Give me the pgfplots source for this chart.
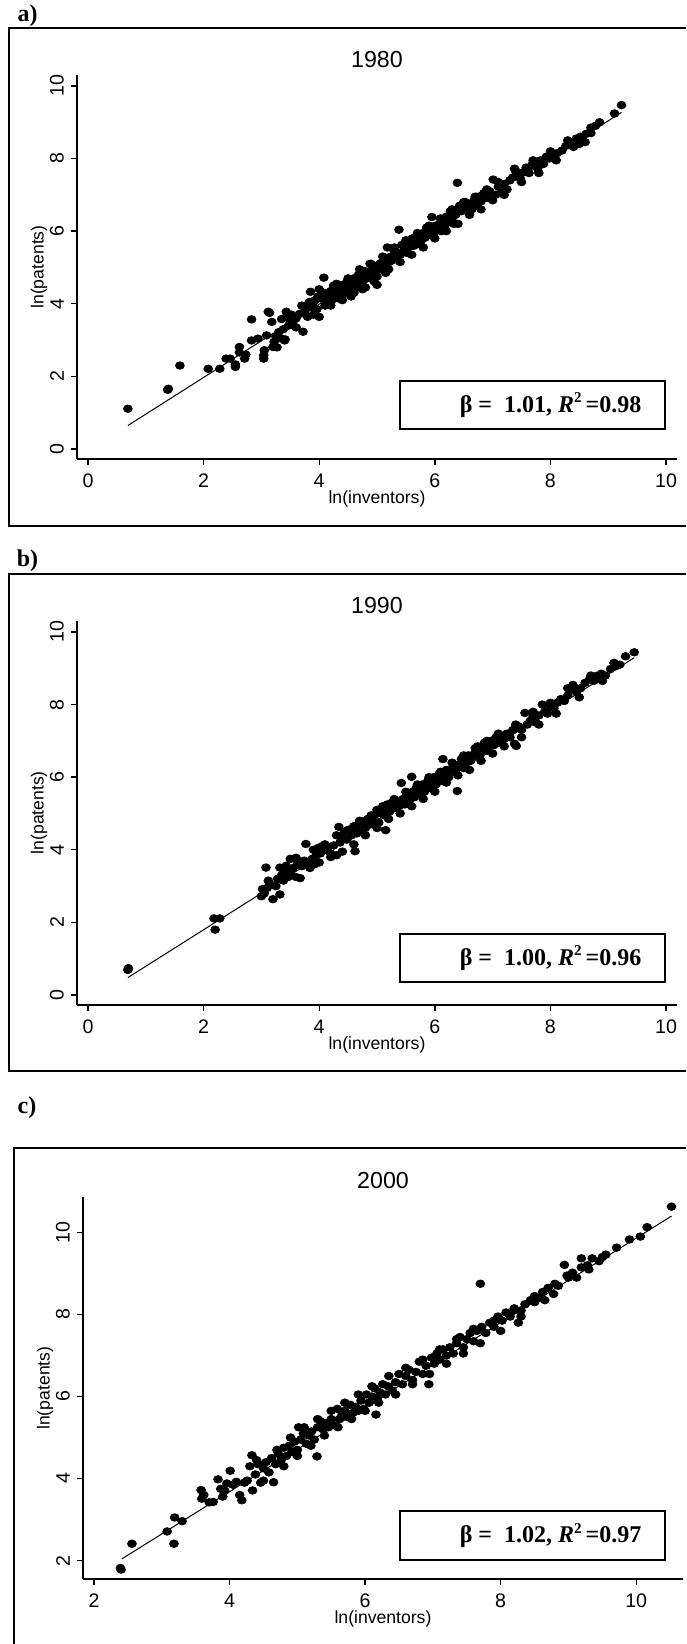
\documentclass[border=0pt]{standalone}
\usepackage{fontspec}
\setmainfont{Liberation Sans}
\newfontfamily\timesfont{Liberation Serif}
\usepackage{pgfplots}
\usepackage{pgfplotstable}
\pgfplotsset{compat=1.18}

% 1980: ln(inventors) vs ln(patents)
\pgfplotstableread{
x y
0.69 1.11
1.38 1.63
1.39 1.66
1.59 2.30
2.08 2.21
2.28 2.21
2.39 2.49
2.46 2.49
2.55 2.26
2.55 2.33
2.62 2.81
2.62 2.66
2.71 2.49
2.73 2.60
2.83 3.57
2.83 2.99
2.94 3.04
3.04 2.49
3.04 2.58
3.05 2.72
3.09 3.13
3.12 3.78
3.14 3.75
3.18 3.50
3.20 2.81
3.22 2.95
3.25 3.10
3.27 2.80
3.30 3.22
3.33 3.05
3.35 3.58
3.38 3.30
3.40 2.99
3.41 3.02
3.43 3.78
3.45 3.62
3.47 3.40
3.50 3.55
3.52 3.70
3.55 3.52
3.60 3.60
3.66 3.72
3.72 3.23
3.75 3.80
3.78 3.95
3.80 3.64
3.83 4.05
3.85 4.33
3.88 3.90
3.90 3.70
3.93 4.10
3.96 3.85
3.98 4.20
4.00 3.64
4.03 4.15
4.05 4.30
4.08 4.72
4.10 3.95
4.13 4.18
4.16 4.05
4.20 4.35
4.22 4.10
4.25 4.50
4.28 4.22
4.30 4.40
4.33 4.15
4.36 4.30
4.40 4.52
4.42 4.28
4.45 4.45
4.48 4.60
4.50 4.38
4.53 4.55
4.56 4.48
4.60 4.70
4.62 4.42
4.65 4.62
4.68 4.80
4.70 4.55
4.73 4.75
4.76 4.62
4.79 4.90
4.82 4.70
4.85 4.85
4.88 5.10
4.90 4.78
4.93 5.00
4.96 4.88
5.00 4.52
5.00 5.05
5.03 4.95
5.06 5.12
5.09 5.00
5.12 5.20
5.15 5.05
5.18 5.55
5.21 5.15
5.24 5.30
5.27 5.20
5.30 5.45
5.33 5.28
5.36 5.40
5.38 6.04
5.40 5.35
5.43 5.62
5.46 5.45
5.49 5.55
5.52 5.40
5.55 5.70
5.58 5.58
5.61 5.80
5.64 5.60
5.67 5.75
5.70 5.65
5.73 5.90
5.76 5.72
5.80 5.95
5.83 5.82
5.86 6.10
5.90 5.90
5.93 6.05
5.95 6.39
5.98 5.95
6.01 6.15
6.05 6.05
6.08 6.20
6.11 6.00
6.14 6.30
6.17 6.12
6.20 6.40
6.24 6.25
6.27 6.55
6.30 6.35
6.33 6.20
6.36 6.45
6.39 7.33
6.40 6.60
6.43 6.70
6.46 6.55
6.50 6.62
6.53 6.80
6.56 6.65
6.60 6.75
6.64 6.60
6.68 6.85
6.72 6.70
6.76 6.95
6.80 6.82
6.85 7.05
6.90 6.92
6.95 7.10
7.01 7.42
7.05 7.00
7.10 7.22
7.15 7.05
7.20 7.30
7.25 7.15
7.30 7.40
7.35 7.48
7.38 7.72
7.42 7.55
7.48 7.45
7.53 7.62
7.58 7.75
7.63 7.60
7.68 7.82
7.73 7.90
7.78 7.72
7.83 7.95
7.88 7.85
7.93 8.05
7.98 8.00
8.05 8.10
8.12 8.15
8.20 8.22
8.27 8.35
8.33 8.40
8.40 8.32
8.45 8.55
8.52 8.60
8.55 8.54
8.62 8.68
8.70 8.85
8.78 8.90
8.85 9.00
9.11 9.24
9.23 9.47
3.60 3.35
3.70 3.95
3.90 4.05
4.00 4.40
4.10 4.30
4.20 3.95
4.30 4.55
4.40 4.10
4.50 4.70
4.60 4.30
4.70 4.95
4.80 4.45
4.90 5.10
5.00 4.75
5.10 5.30
5.20 4.95
5.30 5.55
5.40 5.15
5.50 5.75
5.60 5.35
5.70 5.95
5.80 5.55
5.90 6.15
6.00 5.80
6.10 6.35
6.20 6.00
6.30 6.60
6.40 6.20
6.50 6.80
6.60 6.45
6.70 6.95
6.80 6.60
6.90 7.15
7.00 6.85
7.10 7.35
7.20 7.00
7.40 7.65
7.50 7.35
7.70 7.95
7.80 7.60
8.00 8.20
8.10 7.95
8.30 8.50
8.50 8.40
8.60 8.45
8.70 8.70
4.55 4.20
4.75 4.40
4.95 4.62
5.15 4.85
}\tabA

% 1990
\pgfplotstableread{
x y
0.69 0.69
0.70 0.74
2.18 2.11
2.28 2.11
2.20 1.80
3.00 2.72
3.02 2.92
3.05 2.80
3.08 3.51
3.10 2.95
3.12 3.15
3.15 3.05
3.20 2.64
3.25 3.00
3.28 3.20
3.32 2.77
3.32 3.51
3.35 3.30
3.38 3.15
3.40 3.45
3.43 3.56
3.46 3.25
3.50 3.40
3.55 3.50
3.60 3.78
3.62 3.60
3.67 3.22
3.70 3.55
3.74 3.70
3.77 4.16
3.80 3.62
3.84 3.50
3.88 3.75
3.92 3.60
3.95 3.85
3.98 4.05
4.02 3.90
4.05 4.10
4.10 4.00
4.15 4.08
4.20 3.90
4.25 4.12
4.30 3.85
4.34 4.63
4.36 4.20
4.40 4.35
4.44 4.50
4.48 4.28
4.52 4.55
4.56 4.40
4.60 4.65
4.62 3.96
4.65 4.45
4.68 4.70
4.72 4.55
4.76 4.78
4.80 4.60
4.84 4.85
4.88 4.70
4.92 4.80
4.96 4.95
5.00 5.10
5.03 4.75
5.07 5.00
5.10 5.20
5.13 4.95
5.15 4.54
5.18 5.25
5.22 5.05
5.26 5.30
5.30 5.15
5.34 5.35
5.38 5.20
5.42 5.84
5.45 5.40
5.48 5.25
5.52 5.50
5.56 5.35
5.60 6.01
5.62 5.60
5.65 5.45
5.68 5.70
5.72 5.55
5.75 5.65
5.78 5.80
5.82 5.60
5.85 5.75
5.88 5.90
5.92 5.70
5.95 5.85
5.98 6.00
6.02 5.80
6.05 5.95
6.08 6.10
6.12 5.90
6.14 6.50
6.16 6.05
6.20 6.20
6.24 6.00
6.28 6.15
6.32 6.30
6.36 6.20
6.39 5.62
6.42 6.35
6.46 6.50
6.50 6.25
6.54 6.40
6.58 6.60
6.62 6.45
6.66 6.55
6.70 6.70
6.74 6.85
6.78 6.60
6.82 6.80
6.86 6.95
6.90 6.72
6.94 6.85
6.98 7.00
7.02 6.88
7.06 7.10
7.10 6.95
7.15 7.15
7.20 7.05
7.25 7.20
7.30 7.10
7.35 7.30
7.38 6.92
7.41 6.86
7.45 7.40
7.50 7.30
7.56 7.77
7.60 7.45
7.65 7.55
7.70 7.65
7.75 7.50
7.80 7.70
7.86 8.00
7.90 7.80
7.95 7.75
8.00 7.95
8.06 7.90
8.12 8.05
8.18 8.15
8.24 8.10
8.30 8.25
8.36 8.40
8.39 8.54
8.45 8.35
8.52 8.45
8.60 8.60
8.68 8.70
8.75 8.65
8.80 8.79
8.88 8.85
8.95 8.80
9.04 8.98
9.12 9.05
9.20 9.10
9.30 9.33
9.45 9.44
3.50 3.75
3.60 3.25
3.90 4.00
4.00 3.65
4.10 4.15
4.20 3.80
4.30 4.40
4.40 3.95
4.50 4.55
4.60 4.15
4.70 4.80
4.80 4.40
4.90 4.95
5.00 4.60
5.10 5.15
5.20 4.85
5.30 5.40
5.40 5.00
5.50 5.60
5.60 5.20
5.70 5.80
5.80 5.40
5.90 6.00
6.00 5.60
6.10 6.15
6.20 5.85
6.30 6.40
6.40 6.05
6.50 6.60
6.60 6.20
6.70 6.80
6.80 6.45
6.90 7.00
7.00 6.65
7.10 7.20
7.20 6.85
7.40 7.45
7.50 7.10
7.70 7.80
7.80 7.45
8.00 8.05
8.10 7.75
8.30 8.45
8.50 8.20
8.70 8.80
8.90 8.65
9.10 9.15
}\tabB

% 2000
\pgfplotstableread{
x y
2.39 1.82
2.40 1.78
2.56 2.41
3.08 2.71
3.18 2.41
3.19 3.05
3.30 2.96
3.58 3.72
3.59 3.51
3.62 3.60
3.70 3.42
3.76 3.43
3.83 3.98
3.87 3.75
3.90 3.56
3.93 3.70
3.96 3.88
4.01 4.19
4.05 3.85
4.10 3.92
4.15 3.60
4.18 3.47
4.22 3.90
4.26 3.95
4.30 4.30
4.33 4.57
4.34 3.71
4.38 4.10
4.42 4.35
4.46 3.90
4.50 4.25
4.54 4.40
4.58 4.15
4.62 4.50
4.65 3.91
4.68 4.35
4.72 4.60
4.76 4.45
4.80 4.75
4.84 4.55
4.88 4.80
4.92 4.65
4.96 4.90
5.00 4.70
5.02 5.25
5.05 4.95
5.09 5.10
5.13 4.85
5.17 5.05
5.21 5.15
5.25 4.95
5.29 4.54
5.30 5.25
5.34 5.40
5.38 5.20
5.42 5.35
5.46 5.25
5.50 5.45
5.54 5.30
5.59 5.70
5.62 5.45
5.66 5.55
5.70 5.65
5.74 5.50
5.78 5.80
5.82 5.60
5.86 5.75
5.90 5.65
5.94 5.90
5.98 5.70
6.02 6.05
6.06 5.85
6.10 6.00
6.14 6.20
6.16 5.56
6.18 5.95
6.22 6.10
6.26 6.30
6.30 6.05
6.34 6.25
6.40 6.15
6.45 6.35
6.50 6.55
6.55 6.30
6.60 6.50
6.65 6.65
6.70 6.40
6.75 6.60
6.80 6.85
6.85 6.55
6.90 6.75
6.94 6.30
6.98 6.95
7.02 6.80
7.06 7.05
7.10 6.90
7.15 7.15
7.20 7.00
7.25 7.20
7.30 7.05
7.35 7.30
7.40 7.45
7.45 7.20
7.50 7.40
7.55 7.55
7.60 7.35
7.65 7.60
7.70 8.75
7.72 7.70
7.78 7.55
7.84 7.80
7.90 7.70
7.96 7.95
8.02 7.85
8.08 8.05
8.14 7.95
8.20 8.15
8.26 7.80
8.30 8.10
8.36 8.25
8.44 8.35
8.50 8.30
8.56 8.40
8.62 8.55
8.70 8.65
8.78 8.50
8.85 8.70
8.94 9.21
8.98 8.95
9.06 9.02
9.12 8.90
9.19 9.15
9.19 9.37
9.28 9.20
9.35 9.37
9.45 9.30
9.55 9.46
9.71 9.63
9.90 9.83
10.06 9.90
10.16 10.13
10.52 10.63
4.40 4.45
4.50 3.95
4.70 4.70
4.80 4.30
4.90 5.00
5.00 4.55
5.10 5.25
5.20 4.80
5.30 5.45
5.40 5.05
5.50 5.65
5.60 5.25
5.70 5.85
5.80 5.45
5.90 6.05
6.00 5.65
6.10 6.25
6.20 5.85
6.35 6.50
6.45 6.05
6.60 6.70
6.70 6.30
6.85 6.90
6.95 6.55
7.10 7.15
7.20 6.80
7.35 7.40
7.45 7.05
7.60 7.65
7.70 7.30
7.90 7.85
8.00 7.60
8.20 8.10
8.30 7.95
8.50 8.45
8.65 8.35
8.80 8.75
9.00 8.90
9.30 9.10
9.50 9.40
}\tabC

\pgfplotsset{
  panel/.style={
    scale only axis, width=300pt, height=192pt,
    axis x line*=bottom, axis y line*=left,
    axis line style={-, line width=0.8pt},
    tick align=outside, major tick length=3pt,
    tick style={black, line width=0.7pt},
    /pgf/number format/assume math mode=true,
    tick label style={font=\fontsize{9.8}{9.8}\selectfont},
    xticklabel style={yshift=-1pt},
    yticklabel style={rotate=90, anchor=south},
    label style={font=\fontsize{8.8}{8.8}\selectfont},
    xlabel={ln(inventors)}, ylabel={ln(patents)},
    xlabel style={at={(axis description cs:0.5,0)}, anchor=center, yshift=-20pt},
    ylabel style={at={(axis description cs:-0.0633,0.5)}, anchor=center},
    every axis title shift=0pt,
    title style={font=\fontsize{11.6}{11.6}\selectfont, at={(axis description cs:0.5,1)}, anchor=center, yshift=7.5pt},
    clip=false,
  },
  dots/.style={only marks, mark=*, mark size=2.2pt, mark options={fill=black, draw=black, yscale=0.86}},
  fit/.style={black, line width=0.5pt, no marks},
}

\newcommand{\stat}[2]{{\timesfont\bfseries\fontsize{12}{12}\selectfont β =\ \ #1, \textit{R}\raisebox{0.85ex}{\fontsize{7.5}{7.5}\selectfont 2}\,=#2}}
\newcommand{\tag}[1]{{\timesfont\bfseries\fontsize{12}{12}\selectfont #1}}

\begin{document}
\begin{tikzpicture}
\useasboundingbox (0,0) rectangle (343pt,-822pt);
\clip (0,0) rectangle (343pt,-822pt);

% outer frames and panel letters
\draw[line width=1pt] (4.35pt,-14pt) rectangle (400pt,-262.85pt);
\draw[line width=1pt] (4.35pt,-286.85pt) rectangle (400pt,-535.35pt);
\draw[line width=1pt] (7pt,-574.15pt) rectangle (400pt,-900pt);
\node at (13.75pt,-8pt) {\tag{a)}};
\node at (13.75pt,-280.5pt) {\tag{b)}};
\node at (13.5pt,-554pt) {\tag{c)}};

% a) 1980
\begin{axis}[panel, at={(38.5pt,-229.5pt)}, anchor=south west,
  xmin=-0.19, xmax=10.19, ymin=-0.275, ymax=10.30,
  xtick={0,2,...,10}, ytick={0,2,...,10}, title={1980}]
\addplot[dots] table[x=x, y=y] {\tabA};
\addplot[fit] coordinates {(0.69,0.647) (9.23,9.27)};
\end{axis}
\draw[line width=0.9pt] (200pt,-190.35pt) rectangle (332.5pt,-214.65pt);
\node[anchor=east, inner sep=0pt] at (320.85pt,-202.5pt) {\stat{1.01}{0.98}};

% b) 1990
\begin{axis}[panel, at={(38.5pt,-502.35pt)}, anchor=south west,
  xmin=-0.19, xmax=10.19, ymin=-0.267, ymax=10.31,
  xtick={0,2,...,10}, ytick={0,2,...,10}, title={1990}]
\addplot[dots] table[x=x, y=y] {\tabB};
\addplot[fit] coordinates {(0.69,0.48) (9.45,9.29)};
\end{axis}
\draw[line width=0.9pt] (200pt,-467pt) rectangle (332.5pt,-491pt);
\node[anchor=east, inner sep=0pt] at (320.85pt,-479pt) {\stat{1.00}{0.96}};

% c) 2000
\begin{axis}[panel, at={(41.5pt,-789.5pt)}, anchor=south west, height=190.9pt,
  xmin=1.838, xmax=10.69, ymin=1.55, ymax=10.86,
  xtick={2,4,...,10}, ytick={2,4,...,10}, title={2000},
  title style={yshift=0.75pt}]
\addplot[dots] table[x=x, y=y] {\tabC};
\addplot[fit] coordinates {(2.41,2.04) (10.52,10.40)};
\end{axis}
\draw[line width=0.9pt] (200pt,-755.5pt) rectangle (332.5pt,-780pt);
\node[anchor=east, inner sep=0pt] at (320.85pt,-767.75pt) {\stat{1.02}{0.97}};
\end{tikzpicture}
\end{document}
